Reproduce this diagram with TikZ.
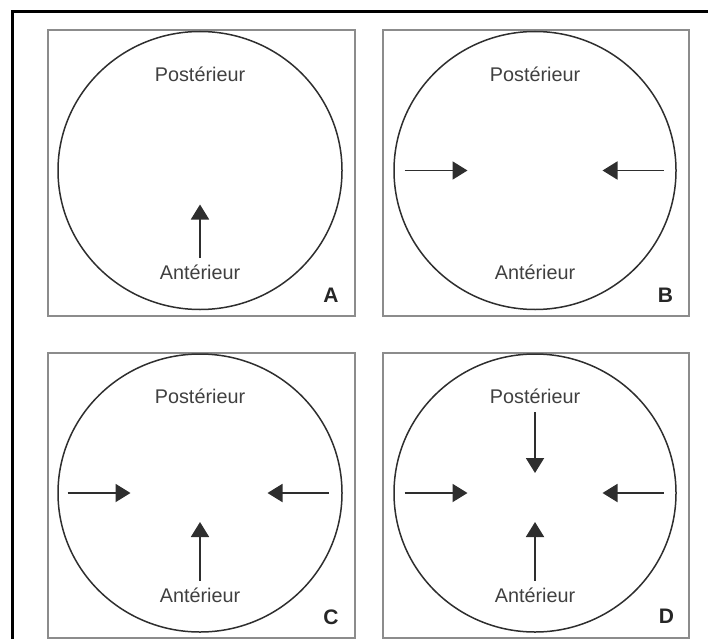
\documentclass[tikz,border=0pt]{standalone}
\usepackage{fontspec}
\setmainfont{Liberation Sans}
\usetikzlibrary{arrows.meta}
\definecolor{framegrey}{HTML}{8C8C8C}
\definecolor{inkgrey}{HTML}{2E2E2E}
\definecolor{textgrey}{HTML}{404040}
\tikzset{
  panelbox/.style={draw=framegrey, line width=2pt},
  orb/.style={draw=inkgrey, line width=1.5pt},
  lbl/.style={text=textgrey, font=\fontsize{19.8}{20}\selectfont, inner sep=0pt},
  letter/.style={text=black!85, font=\fontsize{21}{22}\selectfont\bfseries, inner sep=0pt},
  pointer/.style={draw=inkgrey, line width=1.9pt, -{Triangle[length=15pt,width=18pt]}},
}
\begin{document}
\begin{tikzpicture}[x=1pt,y=-1pt]
\useasboundingbox (0,0) rectangle (708,639);
\draw[line width=3pt, black] (12.5,639) -- (12.5,11.5) -- (708,11.5);

% Panel A
\begin{scope}[shift={(46.5,29.5)}]
  \node[panelbox, minimum width=307.5pt, minimum height=285.5pt, anchor=north west, inner sep=0pt] (pA) at (0,0) {};
  \draw[orb] (153.5,141) ellipse [x radius=142, y radius=139];
  \node[lbl] (postA) at (153.5,44.5) {Postérieur};
  \node[lbl] (antA) at (153.5,243) {Antérieur};
  \node[letter] (labA) at (284.5,265.5) {A};
  \coordinate (aUs) at (153.5,228.5); \coordinate (aUe) at (153.5,175);
  \draw[pointer] (aUs) -- (aUe);
\end{scope}

% Panel B
\begin{scope}[shift={(381.5,29.5)}]
  \node[panelbox, minimum width=306.5pt, minimum height=285.5pt, anchor=north west, inner sep=0pt] (pB) at (0,0) {};
  \draw[orb] (153.5,141) ellipse [x radius=141, y radius=139];
  \node[lbl] (postB) at (153.5,44.5) {Postérieur};
  \node[lbl] (antB) at (153.5,243) {Antérieur};
  \node[letter] (labB) at (284,265.5) {B};
  \coordinate (bLs) at (23,141); \coordinate (bLe) at (86,141);
  \coordinate (bRs) at (282,141); \coordinate (bRe) at (221,141);
  \draw[pointer] (bLs) -- (bLe);
  \draw[pointer] (bRs) -- (bRe);
\end{scope}

% Panel C
\begin{scope}[shift={(46.5,352)}]
  \node[panelbox, minimum width=307.5pt, minimum height=285pt, anchor=north west, inner sep=0pt] (pC) at (0,0) {};
  \draw[orb] (153.5,141) ellipse [x radius=142, y radius=139];
  \node[lbl] (postC) at (153.5,44.5) {Postérieur};
  \node[lbl] (antC) at (153.5,243) {Antérieur};
  \node[letter] (labC) at (284.5,265) {C};
  \coordinate (cLs) at (21,141); \coordinate (cLe) at (84,141);
  \coordinate (cRs) at (282,141); \coordinate (cRe) at (221,141);
  \coordinate (cUs) at (153.5,228.5); \coordinate (cUe) at (153.5,170);
  \draw[pointer] (cLs) -- (cLe);
  \draw[pointer] (cRs) -- (cRe);
  \draw[pointer] (cUs) -- (cUe);
\end{scope}

% Panel D
\begin{scope}[shift={(381.5,352)}]
  \node[panelbox, minimum width=306.5pt, minimum height=285pt, anchor=north west, inner sep=0pt] (pD) at (0,0) {};
  \draw[orb] (153.5,141) ellipse [x radius=141, y radius=139];
  \node[lbl] (postD) at (153.5,44.5) {Postérieur};
  \node[lbl] (antD) at (153.5,243) {Antérieur};
  \node[letter] (labD) at (285,264) {D};
  \coordinate (dLs) at (23,141); \coordinate (dLe) at (86,141);
  \coordinate (dRs) at (282,141); \coordinate (dRe) at (221,141);
  \coordinate (dUs) at (153.5,228.5); \coordinate (dUe) at (153.5,170);
  \coordinate (dDs) at (153.5,60); \coordinate (dDe) at (153.5,121);
  \draw[pointer] (dLs) -- (dLe);
  \draw[pointer] (dRs) -- (dRe);
  \draw[pointer] (dUs) -- (dUe);
  \draw[pointer] (dDs) -- (dDe);
\end{scope}
\end{tikzpicture}
\end{document}
